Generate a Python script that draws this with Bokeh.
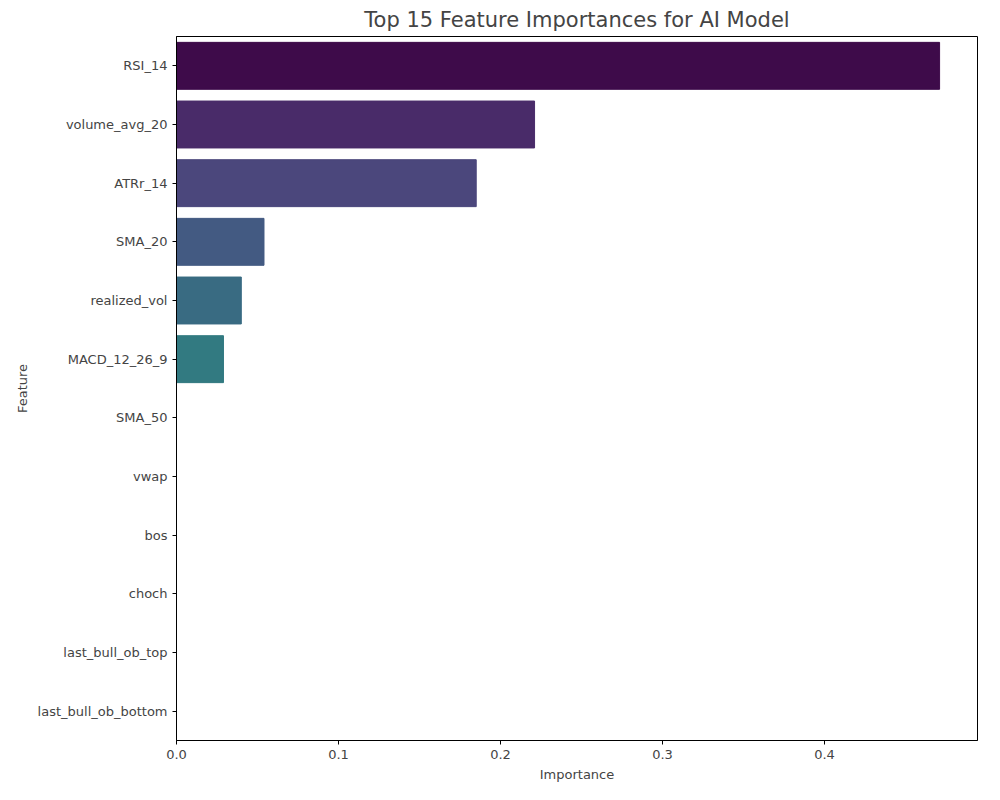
import colorsys
from bokeh.plotting import figure
from bokeh.models import ColumnDataSource, Range1d, FixedTicker
from bokeh.embed import file_html
from bokeh.resources import INLINE

features = ["RSI_14", "volume_avg_20", "ATRr_14", "SMA_20", "realized_vol", "MACD_12_26_9",
            "SMA_50", "vwap", "bos", "choch", "last_bull_ob_top", "last_bull_ob_bottom"]
importance = [0.471, 0.221, 0.185, 0.054, 0.040, 0.029, 0, 0, 0, 0, 0, 0]

viridis12 = ["#440154", "#482173", "#433E85", "#38588C", "#2D708E", "#25858E",
             "#1E9B8A", "#2BB07F", "#51C56A", "#85D54A", "#C2DF23", "#FDE725"]

# seaborn-style desaturation (0.75)
def desat(hexc, prop=0.75):
    r, g, b = (int(hexc[i:i + 2], 16) / 255 for i in (1, 3, 5))
    h, l, s = colorsys.rgb_to_hls(r, g, b)
    r, g, b = colorsys.hls_to_rgb(h, l, s * prop)
    return "#%02x%02x%02x" % (round(r * 255), round(g * 255), round(b * 255))

colors = [desat(c) for c in viridis12]
src = ColumnDataSource(dict(feature=features, imp=importance, color=colors))

p = figure(y_range=list(reversed(features)), x_range=Range1d(0, 0.4944),
           width=984, height=784, output_backend="svg", toolbar_location=None, tools="",
           title="Top 15 Feature Importances for AI Model",
           x_axis_label="Importance", y_axis_label="Feature",
           min_border_left=176, min_border_right=7, min_border_top=31, min_border_bottom=41)
p.hbar(y="feature", right="imp", left=0, height=0.8, color="color", source=src)

p.title.align = "center"
p.title.text_font = "DejaVu Sans"
p.title.text_font_size = "21px"
p.title.text_font_style = "normal"
p.xaxis.ticker = FixedTicker(ticks=[0, 0.1, 0.2, 0.3, 0.4])
p.xaxis.major_label_overrides = {0: "0.0"}
for ax in (p.xaxis, p.yaxis):
    ax.major_label_text_font = "DejaVu Sans"
    ax.major_label_text_font_size = "13px"
    ax.axis_label_text_font = "DejaVu Sans"
    ax.axis_label_text_font_size = "13px"
    ax.axis_label_text_font_style = "normal"
    ax.minor_tick_line_color = None
    ax.major_tick_out = 4
    ax.major_tick_in = 0
    ax.axis_line_color = "black"
    ax.major_tick_line_color = "black"
p.grid.grid_line_color = None
p.outline_line_color = "black"
p.outline_line_alpha = 1

open("out.html", "w").write(file_html(p, INLINE))
